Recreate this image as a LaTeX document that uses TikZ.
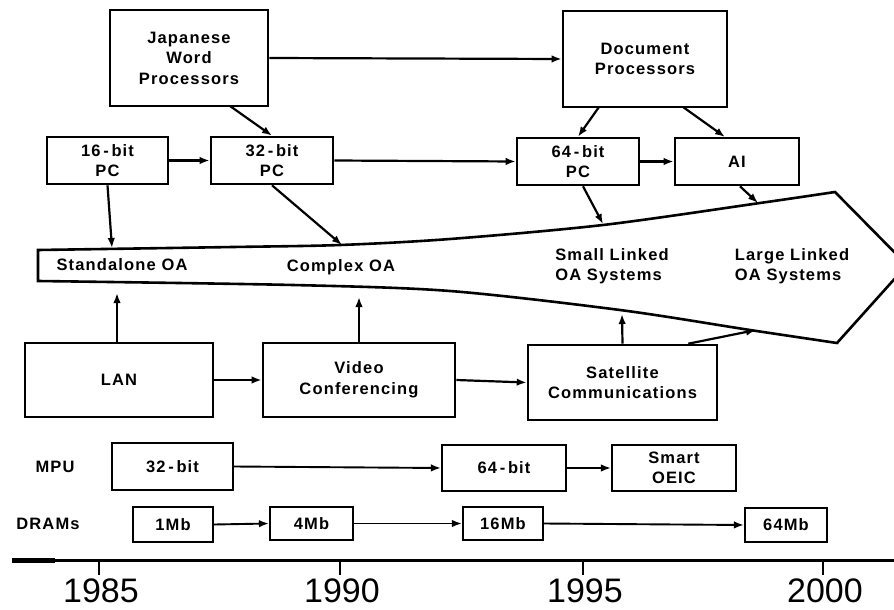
\documentclass[tikz,border=0pt]{standalone}
\usepackage{fontspec}
\setmainfont{Liberation Sans}
\newfontfamily\lblfont[LetterSpace=7]{Liberation Sans Bold}
\usetikzlibrary{arrows.meta}
\begin{document}
\begin{tikzpicture}[x=1pt,y=-1pt,
  lbl/.style={font=\lblfont\fontsize{16.5}{20.5}\selectfont, align=center, inner sep=0pt},
  box/.style={lbl, draw, line width=2.6pt, rectangle},
  sbox/.style={lbl, draw, line width=2.1pt, rectangle},
  arr/.style={-{Latex[length=10pt,width=7.5pt]}, line width=2.2pt},
  year/.style={font=\fontsize{34}{34}\selectfont, inner sep=0pt}]
\useasboundingbox (0,0) rectangle (894,610);
\clip (0,0) rectangle (894,610);

% top boxes
\node[box, minimum width=158pt, minimum height=96pt] (jwp) at (189,58) {Japanese\\Word\\Processors};
\node[box, minimum width=164pt, minimum height=96pt] (dp) at (645,59) {Document\\Processors};
\node[box, minimum width=121pt, minimum height=47pt] (pc16) at (107.5,160.5) {16\,-\,bit\\PC};
\node[box, minimum width=122pt, minimum height=47pt] (pc32) at (272,160.5) {32\,-\,bit\\PC};
\node[box, minimum width=122pt, minimum height=47pt] (pc64) at (578,161.5) {64\,-\,bit\\PC};
\node[box, minimum width=124pt, minimum height=47pt] (ai) at (737,161.5) {AI};

% funnel
\draw[line width=2.6pt, line join=miter]
  plot[smooth, tension=0.5] coordinates {(38,250) (233,247) (340,245) (450,239) (603,225) (760,203) (835,192)}
  -- (907,265)
  -- plot[smooth, tension=0.5] coordinates {(837,343) (750,330) (620,310) (450,291) (293,285) (38,281)}
  -- cycle;
\node[lbl] (sa) at (122,265) {Standalone OA};
\node[lbl] (cx) at (341,267) {Complex OA};
\node[lbl, align=left] (sl) at (612,266) {Small Linked\\OA Systems};
\node[lbl, align=left] (ll) at (792,266) {Large Linked\\OA Systems};

\coordinate (f16) at (112,248);
\coordinate (f32) at (342,245);
\coordinate (f64) at (603,224);
\coordinate (fai) at (758,203);
\coordinate (flan) at (117,293);
\coordinate (fvc) at (359,297);
\coordinate (fsc) at (622,314);
\coordinate (fsc2) at (756,330);

% bottom boxes
\node[box, minimum width=188pt, minimum height=74pt] (lan) at (119,380) {LAN};
\node[box, minimum width=192pt, minimum height=74pt] (vc) at (359,380) {Video\\Conferencing};
\node[box, minimum width=189pt, minimum height=75pt] (sc) at (622.5,382.5) {Satellite\\Communications};

% MPU row
\node[lbl] (mpu) at (55,467) {MPU};
\node[sbox, minimum width=121pt, minimum height=47pt] (m32) at (172.5,466.5) {32\,-\,bit};
\node[sbox, minimum width=124pt, minimum height=46pt] (m64) at (504,468) {64\,-\,bit};
\node[sbox, minimum width=124pt, minimum height=46pt] (oeic) at (674,468) {Smart\\OEIC};

% DRAM row
\node[lbl] (dram) at (48,524) {DRAMs};
\node[sbox, minimum width=80pt, minimum height=35pt] (d1) at (173,524.5) {1Mb};
\node[sbox, minimum width=83pt, minimum height=33pt] (d4) at (311.5,523.5) {4Mb};
\node[sbox, minimum width=80pt, minimum height=33pt] (d16) at (503,523.5) {16Mb};
\node[sbox, minimum width=82pt, minimum height=34pt] (d64) at (786,525) {64Mb};

% connectors
\draw[arr] (jwp.east) -- (dp.west);
\draw[arr] (230,106) -- (pc32.north);
\draw[arr] (599,107) -- (pc64.north);
\draw[arr] (683,107) -- (725,137);
\draw[arr] (pc16.east) -- (pc32.west);
\draw[arr] (pc32.east) -- (pc64.west);
\draw[arr] (pc64.east) -- (ai.west);
\draw[arr] (pc16.south) -- (f16);
\draw[arr] (pc32.south) -- (f32);
\draw[arr] ([xshift=5pt]pc64.south) -- (f64);
\draw[arr] ([xshift=3pt]ai.south) -- (fai);
\draw[arr] ([xshift=-2pt]lan.north) -- (flan);
\draw[arr] (vc.north) -- (fvc);
\draw[arr] (sc.north) -- (fsc);
\draw[arr] ([xshift=-30pt]sc.north east) -- (fsc2);
\draw[arr] (lan.east) -- (vc.west);
\draw[arr] (vc.east) -- (sc.west);
\draw[arr, line width=1.9pt] (m32.east) -- (m64.west);
\draw[arr, line width=1.9pt] (m64.east) -- (oeic.west);
\draw[arr, line width=1.9pt] (d1.east) -- (d4.west);
\draw[arr, line width=1.9pt] (d4.east) -- (d16.west);
\draw[arr, line width=1.9pt] (d16.east) -- (d64.west);

% time axis
\coordinate (axl) at (12,560);
\coordinate (axr) at (894,560);
\draw[line width=3pt] (axl) -- (axr);
\draw[line width=5pt] (axl) -- (55,560);
\foreach \x/\yr in {99/1985, 340/1990, 583/1995, 823/2000}{
  \draw[line width=2.2pt] (\x,560) -- (\x,575);
  \node[year] (y\yr) at (\x+2,591) {\yr};
}
\end{tikzpicture}
\end{document}
